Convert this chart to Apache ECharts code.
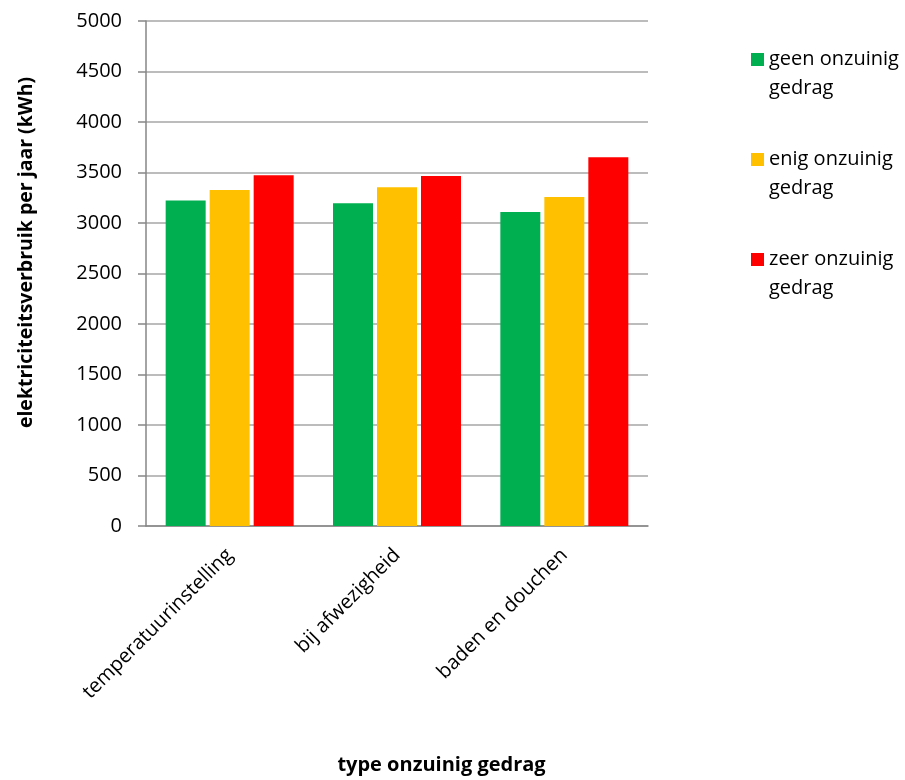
<!DOCTYPE html>
<html>
<head>
<meta charset="utf-8">
<script src="https://cdn.jsdelivr.net/npm/echarts@6/dist/echarts.min.js"></script>
<style>
html,body{margin:0;padding:0;background:#fff;}
#chart{width:905px;height:780px;}
</style>
</head>
<body>
<div id="chart"></div>
<script>
const categories = ['temperatuurinstelling', 'bij afwezigheid', 'baden en douchen'];
const seriesNames = ['geen onzuinig gedrag', 'enig onzuinig gedrag', 'zeer onzuinig gedrag'];
const geenValues = [3222, 3195, 3109];
const enigValues = [3327, 3354, 3258];
const zeerValues = [3473, 3466, 3652];
const yTicks = [0, 500, 1000, 1500, 2000, 2500, 3000, 3500, 4000, 4500, 5000];
const colors = ['#00B050', '#FFC000', '#FF0000'];

const FONT = '"Open Sans", sans-serif';
const chart = echarts.init(document.getElementById('chart'), null, {renderer: 'canvas'});
const values = [geenValues, enigValues, zeerValues];

chart.setOption({
  animation: false,
  backgroundColor: '#ffffff',
  textStyle: {fontFamily: FONT},
  grid: {left: 146, right: 257, top: 21, bottom: 250, containLabel: false},
  legend: {
    orient: 'vertical',
    left: 746,
    top: 11,
    itemWidth: 13,
    itemHeight: 13,
    itemGap: 13,
    icon: 'rect',
    data: seriesNames,
    formatter: function (name) { return '\n' + name.replace(' gedrag', '\ngedrag'); },
    textStyle: {fontFamily: FONT, fontSize: 20, color: '#000', lineHeight: 29}
  },
  xAxis: {
    type: 'category',
    data: categories,
    name: 'type onzuinig gedrag',
    nameLocation: 'middle',
    nameGap: 229,
    nameTextStyle: {fontFamily: FONT, fontSize: 20, fontWeight: 'bold', color: '#000', padding: [0, 0, 0, 89], verticalAlign: 'top'},
    axisLine: {show: true, lineStyle: {color: '#868686', width: 1.5}},
    axisTick: {show: false},
    axisLabel: {rotate: 45, margin: 26, fontFamily: FONT, fontSize: 20, color: '#000', interval: 0}
  },
  yAxis: {
    type: 'value',
    min: 0,
    max: 5000,
    interval: 500,
    name: 'elektriciteitsverbruik per jaar (kWh)',
    nameLocation: 'middle',
    nameGap: 110,
    nameTextStyle: {fontFamily: FONT, fontSize: 19.5, fontWeight: 'bold', color: '#000', padding: [0, 0, 0, 42]},
    axisLine: {show: true, lineStyle: {color: '#868686', width: 1.5}},
    axisTick: {show: true, length: 8, inside: false, lineStyle: {color: '#868686', width: 1.5}},
    axisLabel: {fontFamily: FONT, fontSize: 20, color: '#000', margin: 24,
      formatter: function (v) { return yTicks.indexOf(v) >= 0 ? String(v) : ''; }},
    splitLine: {show: true, lineStyle: {color: '#a6a6a6', width: 1.5}}
  },
  series: seriesNames.map(function (n, i) {
    return {
      name: n,
      type: 'bar',
      data: values[i],
      barWidth: 40,
      barGap: '10%',
      itemStyle: {color: colors[i]}
    };
  })
});
</script>
</body>
</html>
